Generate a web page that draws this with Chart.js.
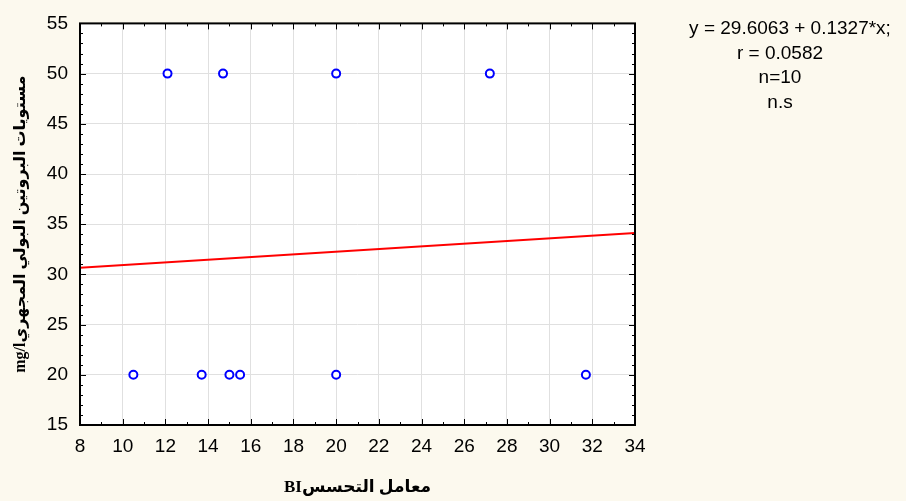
<!DOCTYPE html>
<html>
<head>
<meta charset="utf-8">
<script src="https://cdn.jsdelivr.net/npm/chart.js@4"></script>
<style>
  body { margin: 0; background: #fcf9ee; }
  #wrap { width: 906px; height: 501px; }
</style>
</head>
<body>
<div id="wrap"><canvas id="myChart" width="906" height="501"></canvas></div>
<script>
// data
const biValues = [12.1, 14.7, 20.0, 27.2, 10.5, 13.7, 15.0, 15.5, 20.0, 31.7];
const proteinValues = [50, 50, 50, 50, 20, 20, 20, 20, 20, 20];
const fitIntercept = 29.6063;
const fitSlope = 0.1327;
const xRange = [8, 34];
const yRange = [15, 55];
const statLines = ['y = 29.6063 + 0.1327*x;', 'r = 0.0582', 'n=10', 'n.s'];
const xTitle = '\u202Bمعامل التحسسBI\u202C';
const yTitle = '\u202Bمستويات البروتين البولي المجهريmg/l\u202C';

let points = biValues.map((v, i) => ({ x: v, y: proteinValues[i] }));
let fitLine = xRange.map(x => ({ x: x, y: fitIntercept + fitSlope * x }));

// white plot area, frame, inner tick marks, stats text
const frame = {
    id: 'frame',
    beforeDraw(chart) {
        let a = chart.chartArea, c = chart.ctx;
        c.save();
        c.fillStyle = '#ffffff';
        c.fillRect(a.left, a.top, a.right - a.left, a.bottom - a.top);
        c.restore();
    },
    afterDraw(chart) {
        let a = chart.chartArea, c = chart.ctx;
        let xs = chart.scales.x, ys = chart.scales.y;
        c.save();
        c.strokeStyle = '#000';
        c.lineWidth = 1;
        c.beginPath();
        for (let v = xRange[0]; v <= xRange[1]; v++) {
            let px = Math.round(xs.getPixelForValue(v)) + 0.5;
            let len = v % 2 === 0 ? 6 : 3;
            c.moveTo(px, a.bottom); c.lineTo(px, a.bottom - len);
            c.moveTo(px, a.top); c.lineTo(px, a.top + len);
        }
        for (let v = yRange[0]; v <= yRange[1]; v++) {
            let py = Math.round(ys.getPixelForValue(v)) + 0.5;
            let len = v % 5 === 0 ? 6 : 3;
            c.moveTo(a.left, py); c.lineTo(a.left + len, py);
            c.moveTo(a.right, py); c.lineTo(a.right - len, py);
        }
        c.stroke();
        c.lineWidth = 2;
        c.strokeRect(a.left, a.top, a.right - a.left, a.bottom - a.top);

        c.fillStyle = '#000';
        c.font = '19px "Liberation Sans", Arial, sans-serif';
        c.textBaseline = 'middle';
        c.textAlign = 'center';
        c.fillText(statLines[0], 790, 29);
        for (let i = 1; i < statLines.length; i++) {
            c.fillText(statLines[i], 780, 29 + i * 24.5);
        }
        c.restore();
    }
};

let myChart = document.getElementById('myChart').getContext('2d');

let bChart = new Chart(myChart, {
    type: 'scatter',
    data: {
        datasets: [{
            label: 'points',
            data: points,
            pointRadius: 4,
            pointHoverRadius: 4,
            borderWidth: 2,
            borderColor: '#0000ff',
            backgroundColor: '#ffffff',
            order: 1
        }, {
            type: 'line',
            label: 'fit',
            data: fitLine,
            borderColor: '#ff0000',
            borderWidth: 2,
            pointRadius: 0,
            fill: false,
            order: 2
        }]
    },
    options: {
        responsive: false,
        animation: false,
        devicePixelRatio: 1,
        layout: { padding: { left: 0, right: 271, top: 22, bottom: 0 } },
        plugins: {
            legend: { display: false },
            tooltip: { enabled: false }
        },
        scales: {
            x: {
                type: 'linear',
                min: xRange[0],
                max: xRange[1],
                afterFit: s => { s.height = 76; },
                ticks: {
                    stepSize: 2,
                    color: '#000',
                    padding: 10,
                    font: { family: '"Liberation Sans", Arial, sans-serif', size: 19 }
                },
                grid: { color: '#e0e0e0', drawTicks: false },
                border: { display: false },
                title: {
                    display: true,
                    text: xTitle,
                    color: '#000',
                    padding: { top: 0, bottom: 3 },
                    font: { family: '"Liberation Serif", "DejaVu Sans", serif', size: 17, weight: 'bold' }
                }
            },
            y: {
                min: yRange[0],
                max: yRange[1],
                afterFit: s => { s.width = 80; },
                ticks: {
                    stepSize: 5,
                    color: '#000',
                    padding: 12,
                    font: { family: '"Liberation Sans", Arial, sans-serif', size: 19 }
                },
                grid: { color: '#e0e0e0', drawTicks: false },
                border: { display: false },
                title: {
                    display: true,
                    text: yTitle,
                    color: '#000',
                    padding: { top: 11, bottom: 0 },
                    font: { family: '"Liberation Serif", "DejaVu Sans", serif', size: 16, weight: 'bold' }
                }
            }
        }
    },
    plugins: [frame]
});
</script>
</body>
</html>
